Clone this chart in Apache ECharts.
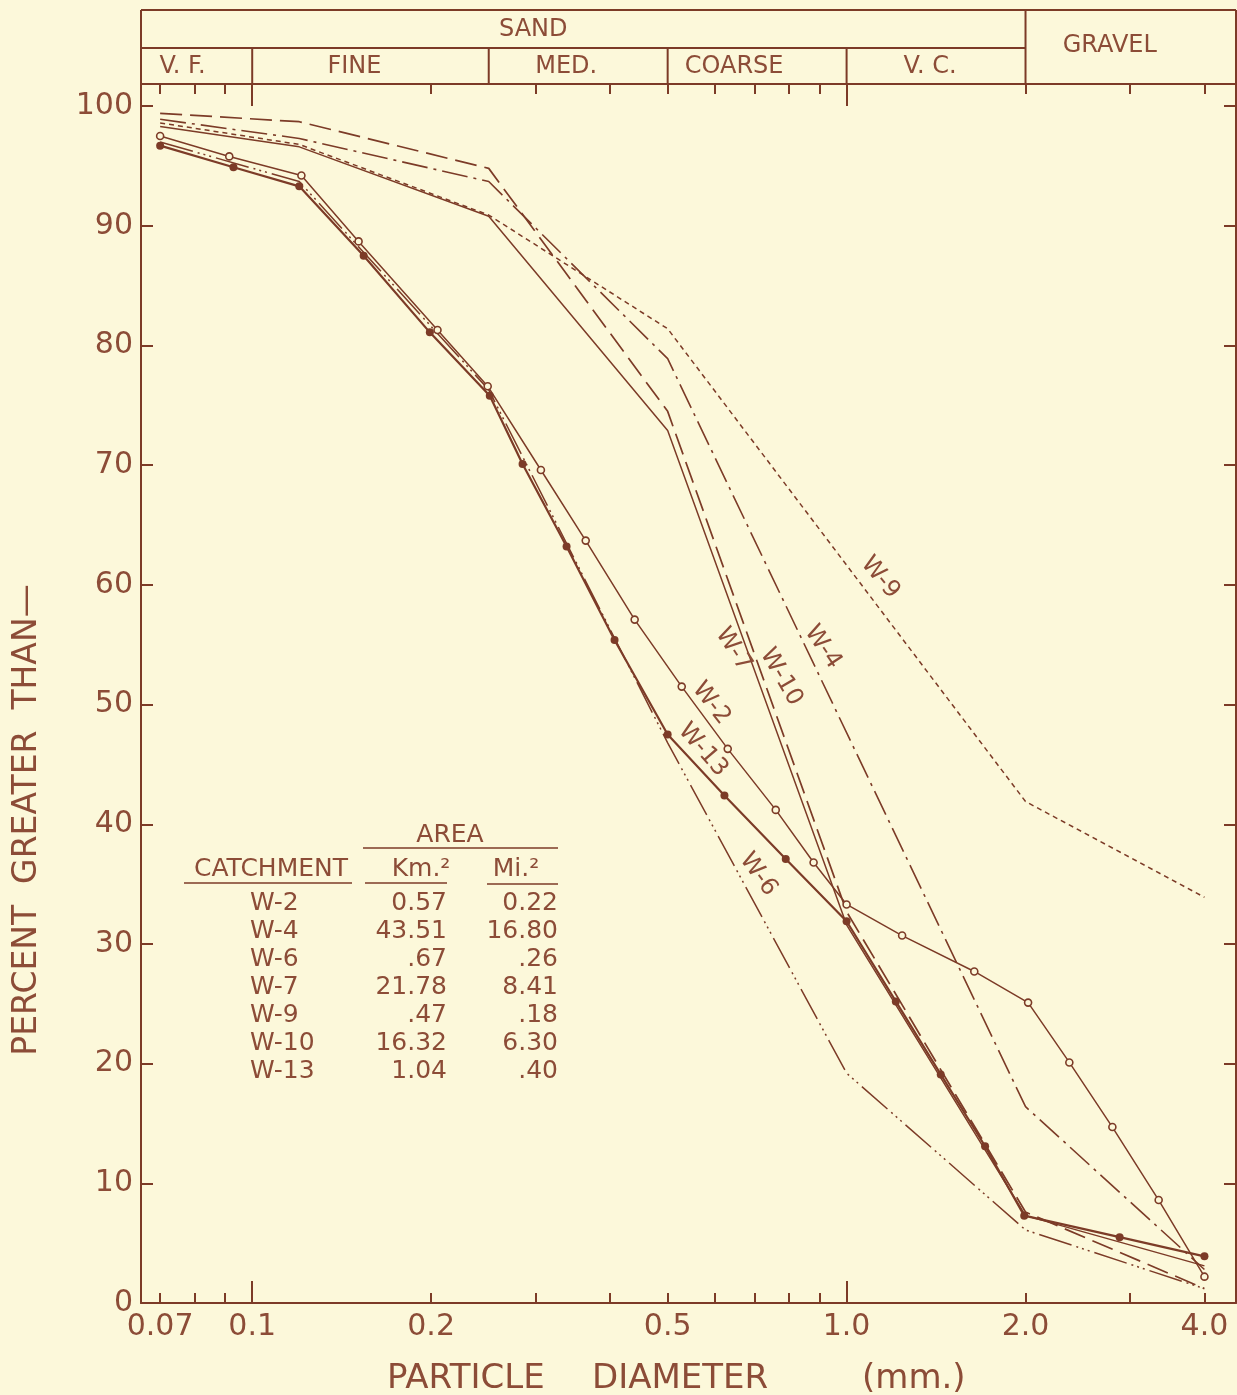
<!DOCTYPE html>
<html>
<head>
<meta charset="utf-8">
<script src="https://cdn.jsdelivr.net/npm/echarts@6/dist/echarts.min.js"></script>
<style>
html,body{margin:0;padding:0;background:#fcf8da;}
#c{width:1237px;height:1395px;}
</style>
</head>
<body>
<div id="c"></div>
<script>
// ---------------- DATA ----------------
// particle diameter (mm) and percent greater than
const w2_d  = [0.07, 0.0915, 0.121, 0.151, 0.205, 0.249, 0.306, 0.364, 0.44, 0.528, 0.631, 0.76, 0.88, 1.0, 1.24, 1.64, 2.02, 2.37, 2.8, 3.35, 4.0];
const w2_p  = [97.5, 95.8, 94.2, 88.7, 81.3, 76.6, 69.6, 63.7, 57.1, 51.5, 46.3, 41.2, 36.8, 33.3, 30.7, 27.7, 25.1, 20.1, 14.7, 8.6, 2.2];

const w13_d = [0.07, 0.093, 0.12, 0.154, 0.199, 0.251, 0.285, 0.338, 0.407, 0.5, 0.623, 0.79, 1.0, 1.21, 1.44, 1.71, 1.99, 2.88, 4.0];
const w13_p = [96.7, 94.9, 93.3, 87.5, 81.1, 75.8, 70.1, 63.2, 55.4, 47.5, 42.4, 37.1, 31.9, 25.2, 19.1, 13.1, 7.3, 5.5, 3.9];

const w6_d  = [0.07, 0.12, 0.25, 0.5, 1.0, 2.0, 4.0];
const w6_p  = [97.0, 93.7, 76.3, 46.8, 19.2, 6.1, 1.2];

const w7_d  = [0.07, 0.12, 0.25, 0.5, 1.0, 2.0, 4.0];
const w7_p  = [98.3, 96.6, 90.8, 72.9, 31.6, 7.3, 3.1];

const w10_d = [0.07, 0.12, 0.25, 0.5, 1.0, 2.0, 4.0];
const w10_p = [99.4, 98.7, 94.8, 74.5, 32.7, 7.6, 1.2];

const w4_d  = [0.07, 0.12, 0.25, 0.5, 2.0, 4.0];
const w4_p  = [98.9, 97.3, 93.7, 78.9, 16.4, 2.8];

const w9_d  = [0.07, 0.12, 0.25, 0.5, 2.0, 4.0];
const w9_p  = [98.6, 96.8, 90.9, 81.4, 41.9, 33.9];

// axis ticks
const xLabelValues = [0.07, 0.1, 0.2, 0.5, 1.0, 2.0, 4.0];
const xLabelTexts  = ['0.07', '0.1', '0.2', '0.5', '1.0', '2.0', '4.0'];
const xMinorTicks  = [0.07, 0.08, 0.09, 0.2, 0.3, 0.4, 0.5, 0.6, 0.7, 0.8, 0.9, 2.0, 3.0, 4.0];
const xMajorTicks  = [0.1, 1.0];

// size classes
const sandClasses  = ['V. F.', 'FINE', 'MED.', 'COARSE', 'V. C.'];
const classBounds  = [0.065, 0.1, 0.25, 0.5, 1.0, 2.0];

// catchment table
const catchments = ['W-2', 'W-4', 'W-6', 'W-7', 'W-9', 'W-10', 'W-13'];
const areaKm2    = ['0.57', '43.51', '.67', '21.78', '.47', '16.32', '1.04'];
const areaMi2    = ['0.22', '16.80', '.26', '8.41', '.18', '6.30', '.40'];

// ---------------- STYLE / LAYOUT ----------------
const BG = '#fcf8da';
const INK = '#8c4c37';
const LINE = '#7c3b27';
const FONT = "'DejaVu Sans ExtraLight','DejaVu Sans',sans-serif";
const XMIN = 0.065, XMAX = 4.52;

const pairs = (d, p) => d.map((v, i) => [v, p[i]]);

function xAxisDef(pos, ticks, len, showLine, withLabels) {
  return {
    type: 'log', logBase: 10, min: XMIN, max: XMAX, position: pos,
    axisLine: {show: showLine, onZero: false, lineStyle: {color: LINE, width: 2}},
    axisTick: {show: true, inside: true, length: len, customValues: ticks,
               lineStyle: {color: LINE, width: 2}},
    axisLabel: withLabels ? {
      show: true, customValues: xLabelValues, margin: 9,
      color: INK, fontSize: 30, fontFamily: FONT,
      formatter: function (v) {
        let best = 0, bd = 1e9;
        xLabelValues.forEach((x, i) => { const dd = Math.abs(Math.log(x) - Math.log(v)); if (dd < bd) { bd = dd; best = i; } });
        return xLabelTexts[best];
      }
    } : {show: false},
    splitLine: {show: false}, minorTick: {show: false}, minorSplitLine: {show: false}
  };
}
function yAxisDef(pos, withLabels) {
  return {
    type: 'value', min: 0, max: 101.85, interval: 10, position: pos,
    axisLine: {show: true, onZero: false, lineStyle: {color: LINE, width: 2}},
    axisTick: {show: true, inside: true, length: 12, lineStyle: {color: LINE, width: 2}},
    axisLabel: withLabels ? {
      show: true, margin: 8, color: INK, fontSize: 30, fontFamily: FONT,
      showMaxLabel: false,
      formatter: v => (Math.abs(v % 10) < 1e-6 ? String(Math.round(v)) : '')
    } : {show: false},
    splitLine: {show: false}
  };
}

function lineSeries(name, d, p, lineStyle, extra) {
  return Object.assign({
    name: name, type: 'line', xAxisIndex: 0, yAxisIndex: 0,
    data: pairs(d, p), symbol: 'none', smooth: false,
    lineStyle: Object.assign({color: LINE, width: 1.5}, lineStyle),
    itemStyle: {color: LINE}, z: 3
  }, extra || {});
}

const chart = echarts.init(document.getElementById('c'), null, {renderer: 'canvas', width: 1237, height: 1395});

chart.setOption({
  animation: false,
  backgroundColor: BG,
  grid: {left: 141, right: 1, top: 84, bottom: 92, containLabel: false},
  xAxis: [
    xAxisDef('bottom', xMinorTicks, 10, true, true),
    xAxisDef('bottom', xMajorTicks, 22, false, false),
    xAxisDef('top', xMinorTicks, 10, true, false),
    xAxisDef('top', xMajorTicks, 22, false, false)
  ],
  yAxis: [yAxisDef('left', true), yAxisDef('right', false)],
  series: [
    lineSeries('W-9', w9_d, w9_p, {type: [5, 4], width: 1.5}),
    lineSeries('W-4', w4_d, w4_p, {type: [26, 6, 3, 6], width: 1.6}),
    lineSeries('W-10', w10_d, w10_p, {type: [22, 8], width: 1.7}),
    lineSeries('W-7', w7_d, w7_p, {width: 1.5}),
    lineSeries('W-6', w6_d, w6_p, {type: [34, 5, 2, 4, 2, 4, 2, 5], width: 1.5}),
    lineSeries('W-2', w2_d, w2_p, {width: 1.5}, {
      symbol: 'circle', symbolSize: 7,
      itemStyle: {color: BG, borderColor: LINE, borderWidth: 1.6}
    }),
    lineSeries('W-13', w13_d, w13_p, {width: 2.2}, {
      symbol: 'circle', symbolSize: 8,
      itemStyle: {color: LINE, borderColor: LINE, borderWidth: 0}
    })
  ]
});

// ---------------- ANNOTATIONS ----------------
const px = v => chart.convertToPixel({xAxisIndex: 0}, v);
const pt = (d, p) => chart.convertToPixel({xAxisIndex: 0, yAxisIndex: 0}, [d, p]);

const HTOP = 10, HMID = 48, HBOT = 84;
const xLeft = 141, xRight = 1236;
const lineStyle = {stroke: LINE, lineWidth: 2};
const g = [];
function hline(x1, x2, y, w) { g.push({type: 'line', shape: {x1: x1, y1: y, x2: x2, y2: y}, style: {stroke: LINE, lineWidth: w || 2}, z: 10}); }
function vline(x, y1, y2) { g.push({type: 'line', shape: {x1: x, y1: y1, x2: x, y2: y2}, style: lineStyle, z: 10}); }
function txt(s, x, y, size, align, extra) {
  g.push(Object.assign({type: 'text', x: x, y: y, z: 10,
    style: {text: s, fill: INK, fontSize: size, fontFamily: FONT, align: align || 'center', verticalAlign: 'middle'}}, extra || {}));
}

// header boxes
const x2 = px(2.0);
hline(xLeft, xRight, HTOP);
vline(xLeft, HTOP, HBOT);
vline(xRight, HTOP, HBOT);
hline(xLeft, x2, HMID);
vline(x2, HTOP, HBOT);
for (let i = 1; i < classBounds.length - 1; i++) vline(px(classBounds[i]), HMID, HBOT);
const classShift = [-14, -16, -12, -23, -6];
sandClasses.forEach((s, i) => {
  const a = i === 0 ? xLeft : px(classBounds[i]);
  const b = px(classBounds[i + 1]);
  txt(s, (a + b) / 2 + classShift[i], (HMID + HBOT) / 2 + 1, 24);
});
txt('SAND', (xLeft + x2) / 2 - 50, (HTOP + HMID) / 2 + 1, 24);
txt('GRAVEL', (x2 + xRight) / 2 - 21, (HTOP + HBOT) / 2 - 1, 24);

// series labels along lines: [text, diameter, percent, angle deg]
const seriesLabels = [
  ['W-9', 1.139, 60.6, 50],
  ['W-4', 0.912, 54.8, 56],
  ['W-10', 0.776, 52.3, 60],
  ['W-7', 0.645, 54.6, 57],
  ['W-2', 0.592, 50.1, 52],
  ['W-13', 0.573, 46.2, 49],
  ['W-6', 0.71, 35.8, 54]
];
seriesLabels.forEach(l => {
  const p = pt(l[1], l[2]);
  txt(l[0], p[0], p[1], 24, 'center', {rotation: -l[3] * Math.PI / 180});
});

// axis titles
txt('PERCENT  GREATER  THAN\u2014', 27, 820, 33, 'center', {rotation: Math.PI / 2});
txt('PARTICLE', 387, 1379, 34, 'left');
txt('DIAMETER', 592, 1379, 34, 'left');
txt('(mm.)', 862, 1379, 34, 'left');

// catchment table
txt('AREA', 450, 835, 25);
hline(363, 558, 848, 1.6);
txt('CATCHMENT', 271, 869, 25);
hline(184, 352, 883, 1.6);
txt('Km.\u00b2', 421, 869, 25);
hline(365, 447, 883, 1.6);
txt('Mi.\u00b2', 516, 869, 25);
hline(487, 558, 884, 1.6);
catchments.forEach((c, i) => {
  const y = 903 + i * 28.1;
  txt(c, 250, y, 25, 'left');
  txt(areaKm2[i], 447, y, 25, 'right');
  txt(areaMi2[i], 558, y, 25, 'right');
});

chart.setOption({graphic: {elements: g}});
</script>
</body>
</html>
